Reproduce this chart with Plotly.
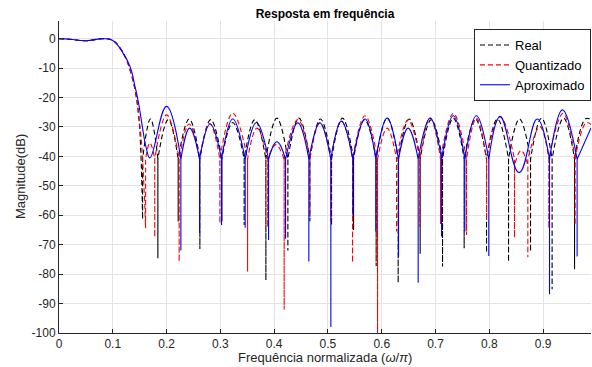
import plotly.graph_objects as go

# ---------------- data ----------------
freq_ticks = [0.0, 0.1, 0.2, 0.3, 0.4, 0.5, 0.6, 0.7, 0.8, 0.9]
freq_tick_labels = ["0", "0.1", "0.2", "0.3", "0.4", "0.5", "0.6", "0.7", "0.8", "0.9"]
db_ticks = [0, -10, -20, -30, -40, -50, -60, -70, -80, -90, -100]
db_tick_labels = ["0", "-10", "-20", "-30", "-40", "-50", "-60", "-70", "-80", "-90", "-100"]

# level (dB) below which the stop-band lobes narrow into thin spikes
SPIKE_TOP_DB = -41.0

# Real (black dashed)
real_pass_f = [0.0, 0.02, 0.05, 0.082, 0.1, 0.115, 0.125, 0.135, 0.142, 0.148, 0.152]
real_pass_db = [0.0, -0.2, -0.7, 0.0, -0.6, -3.5, -7.0, -12.5, -18.0, -26.0, -38.0]
real_null_f = [0.1554, 0.1838, 0.2216, 0.2619, 0.3028, 0.3442, 0.3846, 0.4255, 0.4664, 0.5067, 0.5476,
               0.5896, 0.6305, 0.6714, 0.7130, 0.7532, 0.7948, 0.8357, 0.8766, 0.9167, 0.9584]
real_null_db = [-61.3, -74.6, -62.1, -71.5, -62.0, -63.3, -82.0, -72.0, -62.0, -63.3, -65.0,
                -77.2, -82.9, -73.1, -77.4, -71.2, -72.7, -75.7, -72.3, -85.1, -78.3]
real_peak_f = [0.170, 0.203, 0.242, 0.282, 0.323, 0.364, 0.405, 0.446, 0.486, 0.527, 0.568,
               0.610, 0.651, 0.692, 0.733, 0.774, 0.815, 0.856, 0.897, 0.938, 0.979]
real_peak_db = [-27.3, -27.5, -27.3, -27.5, -28.5, -27.5, -27.0, -27.0, -27.3, -27.0, -27.5,
                -27.0, -27.3, -27.5, -27.0, -27.3, -27.3, -27.3, -27.0, -27.0, -27.2]
real_end_f, real_end_db = 0.989, -27.6

# Quantizado (red dashed)
quant_pass_f = [0.0, 0.02, 0.05, 0.082, 0.1, 0.115, 0.125, 0.135, 0.142, 0.148, 0.154]
quant_pass_db = [0.0, -0.2, -0.7, 0.0, -0.6, -3.5, -7.0, -12.5, -18.0, -26.0, -37.0]
quant_null_f = [0.161, 0.178, 0.2234, 0.2613, 0.2991, 0.3506, 0.388, 0.4186, 0.4664, 0.5054, 0.5457,
                0.5922, 0.6275, 0.6708, 0.7093, 0.7576, 0.7948, 0.8468, 0.8716, 0.9106, 0.9595]
quant_null_db = [-64.4, -67.4, -75.7, -62.0, -62.7, -79.1, -64.0, -92.0, -60.0, -62.0, -76.0,
                 -100.5, -65.5, -64.0, -63.0, -66.7, -61.6, -67.5, -74.3, -64.4, -63.3]
quant_peak_f = [0.169, 0.200, 0.242, 0.280, 0.323, 0.368, 0.403, 0.444, 0.485, 0.525, 0.569,
                0.610, 0.649, 0.690, 0.733, 0.776, 0.820, 0.859, 0.894, 0.937, 0.980]
quant_peak_db = [-35.4, -25.9, -29.0, -28.8, -25.3, -30.4, -36.0, -27.5, -28.6, -28.0, -26.2,
                 -30.4, -27.6, -27.0, -25.4, -27.0, -26.5, -38.0, -29.9, -25.4, -28.6]
quant_end_f, quant_end_db = 0.989, -29.2

# Aproximado (blue solid)
aprox_pass_f = [0.0, 0.02, 0.05, 0.082, 0.1, 0.119, 0.132, 0.141, 0.148, 0.155, 0.162]
aprox_pass_db = [0.0, -0.2, -0.7, 0.0, -0.6, -4.9, -9.4, -16.0, -22.0, -30.0, -37.0]
aprox_null_f = [0.169, 0.2266, 0.2613, 0.3022, 0.3461, 0.3896, 0.4212, 0.4645, 0.5054, 0.5463,
                0.589, 0.6312, 0.6677, 0.7112, 0.7545, 0.799, 0.8554, 0.9119, 0.9632]
aprox_null_db = [-40.5, -72.0, -66.0, -63.3, -64.2, -68.4, -68.0, -75.7, -98.0, -60.0,
                 -65.5, -74.3, -82.9, -67.2, -65.5, -73.8, -45.5, -86.8, -74.0]
aprox_peak_f = [0.200, 0.243, 0.281, 0.323, 0.367, 0.405, 0.444, 0.485, 0.525, 0.569,
                0.610, 0.649, 0.690, 0.733, 0.776, 0.820, 0.889, 0.936, 0.989]
aprox_peak_db = [-23.0, -30.4, -29.0, -27.3, -28.5, -35.0, -28.6, -28.6, -28.0, -27.3,
                 -27.0, -30.4, -27.0, -26.2, -26.2, -26.5, -27.3, -24.2, -30.3]
aprox_end_f, aprox_end_db = None, None


def build(pf, pdb, nf, ndb, kf, kdb, ef, edb):
    """Chain passband, nulls and lobe peaks into one polyline.
    Deep nulls become vertical spikes starting at the spike level; repeated
    vertices make the spline render cusps there instead of rounding them."""
    xs, ys = list(pf), list(pdb)
    prev_peak = None
    for i, (a, b, c, d) in enumerate(zip(nf, ndb, kf, kdb)):
        if b < -50:
            if i == 0:
                xs += [a, a]
                ys += [b, b]
            else:
                top_l = min(SPIKE_TOP_DB, prev_peak - 5)
                xs += [a, a, a]
                ys += [top_l, top_l, b]
            top_r = min(SPIKE_TOP_DB, d - 5)
            xs += [a, a]
            ys += [top_r, top_r]
        else:
            xs.append(a)
            ys.append(b)
        xs.append(c)
        ys.append(d)
        prev_peak = d
    if ef is not None:
        xs.append(ef)
        ys.append(edb)
    return xs, ys


fig = go.Figure()

series = [
    ("Real", build(real_pass_f, real_pass_db, real_null_f, real_null_db, real_peak_f, real_peak_db,
                   real_end_f, real_end_db), "#000000", "5px,3px"),
    ("Quantizado", build(quant_pass_f, quant_pass_db, quant_null_f, quant_null_db, quant_peak_f,
                         quant_peak_db, quant_end_f, quant_end_db), "#ff0000", "5px,3px"),
    ("Aproximado", build(aprox_pass_f, aprox_pass_db, aprox_null_f, aprox_null_db, aprox_peak_f,
                         aprox_peak_db, aprox_end_f, aprox_end_db), "#0000ff", "solid"),
]
for name, (xs, ys), col, dash in series:
    fig.add_trace(go.Scatter(
        x=xs, y=ys, name=name, mode="lines",
        line=dict(color=col, width=1.1, dash=dash, shape="spline", smoothing=1.3, simplify=False),
    ))

axis_common = dict(
    showgrid=True, gridcolor="#e3e3e3", gridwidth=1, zeroline=False,
    showline=True, linecolor="#262626", linewidth=1,
    ticks="inside", ticklen=4, tickcolor="#262626",
    tickfont=dict(family="Liberation Sans, Arial, sans-serif", size=12, color="#262626"),
)

fig.update_layout(
    width=592, height=367,
    margin=dict(l=59, r=1, t=21, b=34),
    paper_bgcolor="white", plot_bgcolor="white",
    font=dict(family="Liberation Sans, Arial, sans-serif", color="#000000"),
    title=dict(text="<b>Resposta em frequência</b>", x=325 / 592, xanchor="center",
               y=1 - 14 / 367, yanchor="middle", yref="container",
               font=dict(size=12, color="#000000")),
    xaxis=dict(range=[0, 0.989], tickvals=freq_ticks, ticktext=freq_tick_labels, **axis_common),
    yaxis=dict(range=[-100, 6], tickvals=db_ticks, ticktext=db_tick_labels, **axis_common),
    legend=dict(x=1, xanchor="right", y=1 - 8 / 312, yanchor="top",
                bgcolor="white", bordercolor="#262626", borderwidth=1,
                font=dict(size=13, color="#000000"), tracegroupgap=0, itemwidth=30),
    showlegend=True,
    annotations=[
        dict(text="Magnitude(dB)", xref="paper", yref="paper", x=(20 - 59) / 532, y=0.5,
             textangle=-90, showarrow=False, xanchor="center", yanchor="middle",
             font=dict(size=13, color="#262626")),
        dict(text="Frequência normalizada (<i>ω</i>/<i>π</i>)", xref="paper", yref="paper",
             x=0.5, y=(333 - 357) / 312, showarrow=False, xanchor="center", yanchor="middle",
             font=dict(size=13, color="#262626")),
    ],
)

fig.write_html("out.html")
